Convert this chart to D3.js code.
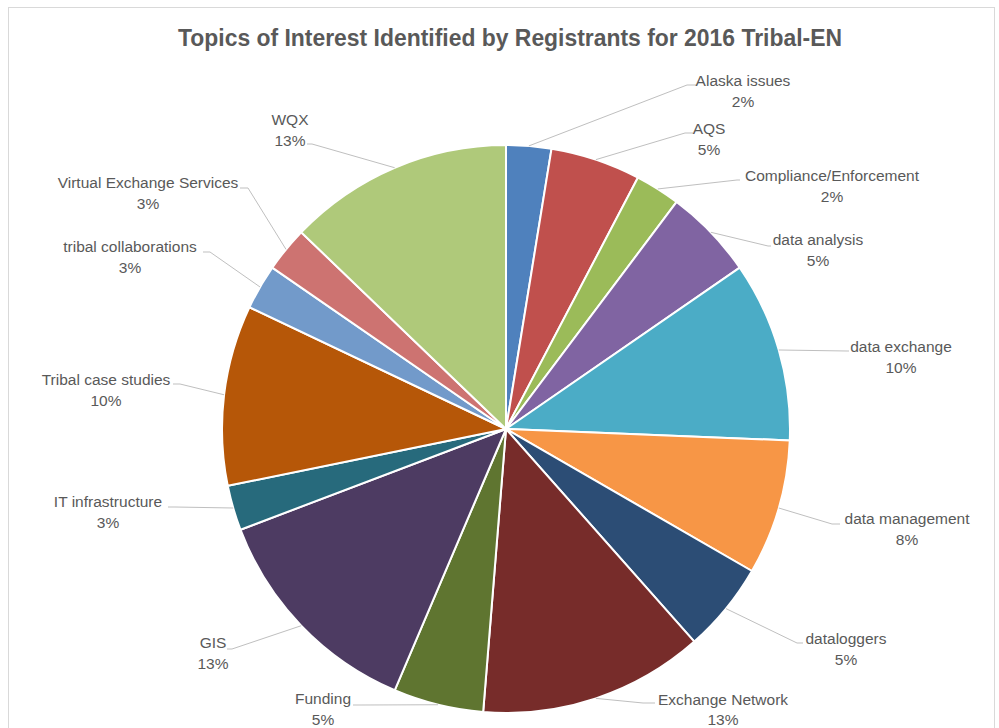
<!DOCTYPE html>
<html>
<head>
<meta charset="utf-8">
<script src="https://cdn.jsdelivr.net/npm/d3@7"></script>
<style>
  html, body { margin: 0; padding: 0; background: #ffffff; overflow: hidden; }
  svg { display: block; }
</style>
</head>
<body>
<svg id="chart" width="999" height="728"></svg>
<script>
// ---- data ----
const title = "Topics of Interest Identified by Registrants for 2016 Tribal-EN";
const categories = ["Alaska issues", "AQS", "Compliance/Enforcement", "data analysis", "data exchange",
  "data management", "dataloggers", "Exchange Network", "Funding", "GIS", "IT infrastructure",
  "Tribal case studies", "tribal collaborations", "Virtual Exchange Services", "WQX"];
const values = [1, 2, 1, 2, 4, 3, 2, 5, 2, 5, 1, 4, 1, 1, 5];
const percentLabels = ["2%", "5%", "2%", "5%", "10%", "8%", "5%", "13%", "5%", "13%", "3%", "10%", "3%", "3%", "13%"];
const colors = ["#4F81BD", "#C0504D", "#9BBB59", "#8064A2", "#4BACC6", "#F79646", "#2C4D75",
  "#772C2A", "#5F7530", "#4D3B62", "#276A7C", "#B65708", "#729ACA", "#CD7371", "#AFC97A"];

// ---- layout (label placement: text centre x, first baseline y, elbow x, elbow y, attach x, line gap) ----
const labelLayout = [
  [743, 86, 687, 85, 697, 21],
  [709, 134, 685, 133, 693, 21],
  [832, 181, 737, 180, 740, 21],
  [818, 245, 768, 246, 771, 21],
  [901, 352, 847, 351, 849, 21],
  [907, 524, 832, 524, 840, 21],
  [846, 644, 797, 643, 803, 21],
  [723, 705, 643, 703, 655, 20],
  [323, 704, 362, 705, 353, 21],
  [213, 648, 232, 649, 227, 21],
  [108, 507, 175, 507, 168, 21],
  [106, 385, 180, 384, 173, 21],
  [130, 252, 210, 252, 203, 21],
  [148, 188, 248, 188, 240, 21],
  [290, 125, 312, 144, 307, 21]
];

const svg = d3.select("#chart");
const cx = 506, cy = 429, R = 284;

// chart frame
svg.append("rect")
  .attr("x", 8.5).attr("y", 7.5).attr("width", 986).attr("height", 740)
  .attr("fill", "#ffffff").attr("stroke", "#d9d9d9").attr("stroke-width", 1);

// title
svg.append("text")
  .attr("x", 510).attr("y", 46)
  .attr("text-anchor", "middle")
  .attr("font-family", "'Liberation Sans', Arial, sans-serif")
  .attr("font-weight", "bold")
  .attr("font-size", 23)
  .attr("fill", "#595959")
  .attr("textLength", 664)
  .attr("lengthAdjust", "spacingAndGlyphs")
  .text(title);

const pie = d3.pie().sort(null).value(d => d)(values);
const arc = d3.arc().innerRadius(0).outerRadius(R);

const g = svg.append("g").attr("transform", `translate(${cx},${cy})`);

g.selectAll("path.slice")
  .data(pie)
  .join("path")
  .attr("class", "slice")
  .attr("d", arc)
  .attr("fill", (d, i) => colors[i])
  .attr("stroke", "#ffffff")
  .attr("stroke-width", 2)
  .attr("stroke-linejoin", "round");

// leader lines
const line = d3.line();
svg.append("g").selectAll("path.leader")
  .data(pie)
  .join("path")
  .attr("class", "leader")
  .attr("fill", "none")
  .attr("stroke", "#bfbfbf")
  .attr("stroke-width", 1)
  .attr("d", (d, i) => {
    const a = (d.startAngle + d.endAngle) / 2;
    const p0 = [cx + R * Math.sin(a), cy - R * Math.cos(a)];
    const L = labelLayout[i];
    return line([p0, [L[2], L[3]], [L[4], L[3]]]);
  });

// labels
const lab = svg.append("g")
  .attr("font-family", "'Liberation Sans', Arial, sans-serif")
  .attr("font-size", 15.5)
  .attr("fill", "#595959")
  .attr("text-anchor", "middle");

categories.forEach((c, i) => {
  const L = labelLayout[i];
  const t = lab.append("text").attr("x", L[0]).attr("y", L[1]);
  t.append("tspan").attr("x", L[0]).attr("y", L[1]).text(c);
  t.append("tspan").attr("x", L[0]).attr("y", L[1] + L[5]).text(percentLabels[i]);
});
</script>
</body>
</html>
